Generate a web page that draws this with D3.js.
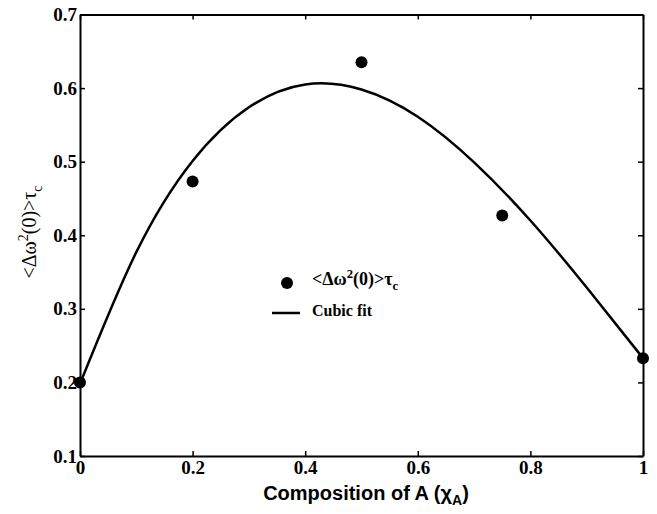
<!DOCTYPE html>
<html>
<head>
<meta charset="utf-8">
<script src="https://cdn.jsdelivr.net/npm/d3@7"></script>
<style>
  body { margin: 0; background: #fff; }
  svg text { fill: #000; }
</style>
</head>
<body>
<div id="chart"></div>
<script>
// measured points
const compX = [0, 0.2, 0.5, 0.75, 1];
const relaxVals = [0.200, 0.473, 0.635, 0.427, 0.233];

// cubic fit curve, every 0.1
const fitX = [0, 0.1, 0.2, 0.3, 0.4, 0.5, 0.6, 0.7, 0.8, 0.9, 1.0];
const fitY = [0.198, 0.377, 0.501, 0.574, 0.605, 0.598, 0.561, 0.499, 0.420, 0.329, 0.233];

const xTicks = [0, 0.2, 0.4, 0.6, 0.8, 1];
const xTickLabels = ['0', '0.2', '0.4', '0.6', '0.8', '1'];
const yTicks = [0.1, 0.2, 0.3, 0.4, 0.5, 0.6, 0.7];
const yTickLabels = ['0.1', '0.2', '0.3', '0.4', '0.5', '0.6', '0.7'];

const width = 657, height = 514;
const plotL = 80, plotR = 643, plotT = 14.5, plotB = 456;

const svg = d3.select('#chart').append('svg')
  .attr('width', width).attr('height', height);

const x = d3.scaleLinear().domain([0, 1]).range([plotL, plotR]);
const y = d3.scaleLinear().domain([0.1, 0.7]).range([plotB, plotT]);

const serif = '"Liberation Serif", "Times New Roman", serif';
const sans = '"Liberation Sans", Arial, sans-serif';

function styleAxis(g) {
  g.select('.domain').attr('stroke', '#000').attr('stroke-width', 2);
  g.selectAll('.tick line').attr('stroke', '#000').attr('stroke-width', 1.5);
  g.selectAll('.tick text')
    .style('font-family', serif).style('font-weight', 'bold').style('font-size', '19px');
}

svg.append('g').attr('transform', `translate(0,${plotB})`)
  .call(d3.axisBottom(x).tickValues(xTicks).tickFormat((d, i) => xTickLabels[i])
    .tickSizeInner(-5).tickSizeOuter(0).tickPadding(5))
  .call(styleAxis);

svg.append('g').attr('transform', `translate(0,${plotT})`)
  .call(d3.axisTop(x).tickValues(xTicks).tickFormat('').tickSizeInner(-5).tickSizeOuter(0))
  .call(styleAxis);

svg.append('g').attr('transform', `translate(${plotL},0)`)
  .call(d3.axisLeft(y).tickValues(yTicks).tickFormat((d, i) => yTickLabels[i])
    .tickSizeInner(-5).tickSizeOuter(0).tickPadding(3))
  .call(styleAxis);

svg.append('g').attr('transform', `translate(${plotR},0)`)
  .call(d3.axisRight(y).tickValues(yTicks).tickFormat('').tickSizeInner(-5).tickSizeOuter(0))
  .call(styleAxis);

// fit curve
const fitData = fitX.map((v, i) => [v, fitY[i]]);
const line = d3.line().x(d => x(d[0])).y(d => y(d[1])).curve(d3.curveNatural);
svg.append('path').datum(fitData)
  .attr('d', line).attr('fill', 'none')
  .attr('stroke', '#000').attr('stroke-width', 2.5);

// data points
svg.selectAll('circle.pt')
  .data(compX.map((v, i) => [v, relaxVals[i]]))
  .enter().append('circle').attr('class', 'pt')
  .attr('cx', d => x(d[0])).attr('cy', d => y(d[1]))
  .attr('r', 6).attr('fill', '#000');

// label builder for <Δω²(0)>τc
function relaxLabel(t, size) {
  t.style('font-family', serif).style('font-size', size + 'px');
  t.append('tspan').text('<Δω');
  t.append('tspan').attr('dy', -size * 0.4).style('font-size', (size * 0.7) + 'px').text('2');
  t.append('tspan').attr('dy', size * 0.4).text('(0)>τ');
  t.append('tspan').attr('dy', size * 0.3).style('font-size', (size * 0.7) + 'px').text('c');
}

// axis titles
svg.append('text')
  .attr('x', 366).attr('y', 500)
  .attr('text-anchor', 'middle')
  .style('font-family', sans).style('font-weight', 'bold').style('font-size', '20px')
  .call(t => {
    t.append('tspan').text('Composition of A (χ');
    t.append('tspan').attr('dy', 5).style('font-size', '14px').text('A');
    t.append('tspan').attr('dy', -5).text(')');
  });

svg.append('text')
  .attr('transform', 'translate(36,232) rotate(-90)')
  .attr('text-anchor', 'middle')
  .call(t => relaxLabel(t, 20));

// legend
const lg = svg.append('g');
lg.append('circle').attr('cx', 287).attr('cy', 283).attr('r', 6).attr('fill', '#000');
lg.append('line').attr('x1', 272).attr('x2', 300).attr('y1', 313).attr('y2', 313)
  .attr('stroke', '#000').attr('stroke-width', 2.5);
lg.append('text').attr('x', 312).attr('y', 285)
  .style('font-weight', 'bold')
  .call(t => relaxLabel(t, 18));
lg.append('text').attr('x', 312).attr('y', 316)
  .style('font-family', serif).style('font-weight', 'bold').style('font-size', '16px')
  .text('Cubic fit');
</script>
</body>
</html>
